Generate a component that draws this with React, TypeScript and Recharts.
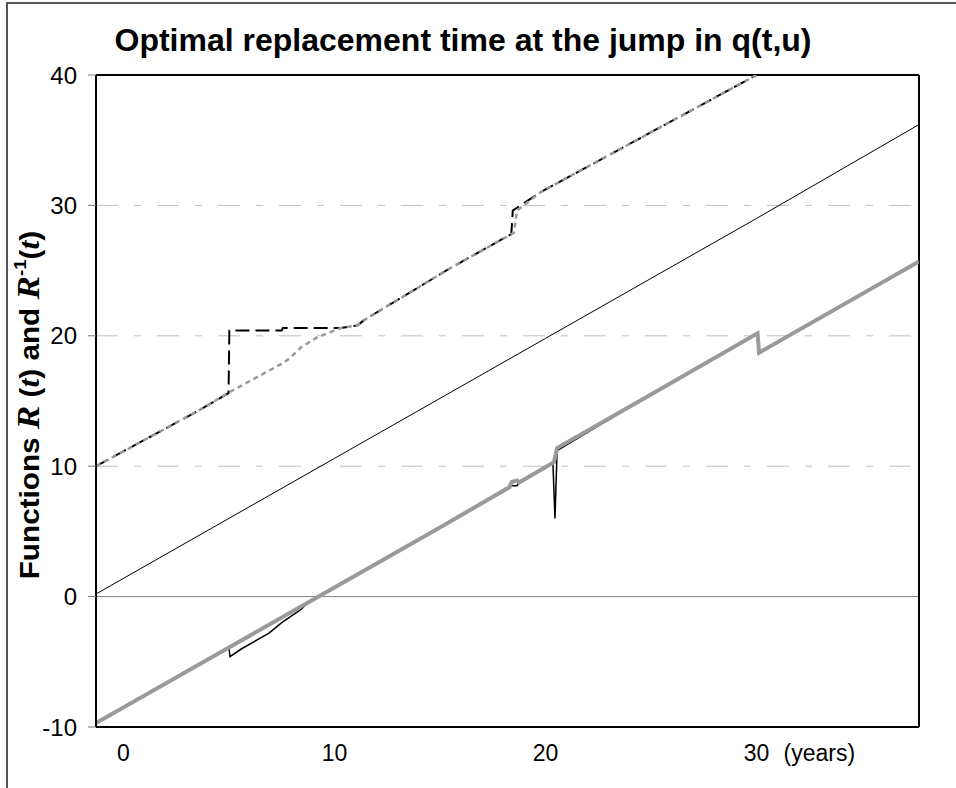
import React from "react";
import {
  LineChart,
  Line,
  XAxis,
  YAxis,
  ReferenceLine,
} from "recharts";

// time axis (years) and values
const xTicks = [0, 10, 20, 30];
const yTicks = [-10, 0, 10, 20, 30, 40];

// thin solid diagonal
const midT = [-1.3, 5, 10, 15, 20, 25, 30, 37.7];
const midV = [0.2, 6.0, 10.6, 15.2, 19.8, 24.4, 29.0, 36.2];

// thick grey lower curve
const lowGreyT = [-1.3, 5, 10, 15, 18.3, 18.4, 18.65, 18.75, 20.4, 20.55, 25, 30.05, 30.12, 37.7];
const lowGreyV = [-9.7, -3.9, 0.7, 5.3, 8.4, 8.8, 8.9, 8.75, 10.3, 11.4, 15.5, 20.2, 18.7, 25.7];

// thin black lower curve (mostly hidden under the grey one)
const lowBlackT = [-1.3, 5.0, 5.05, 5.6, 6.9, 7.5, 8.4, 8.8, 10, 15, 18.3, 18.4, 18.65, 18.75, 20.35, 20.45, 20.55, 25, 30.05, 30.12, 37.7];
const lowBlackV = [-9.7, -3.9, -4.6, -4.0, -2.8, -2.0, -1.0, -0.4, 0.7, 5.3, 8.4, 8.5, 8.5, 8.75, 10.3, 6.0, 11.2, 15.5, 20.2, 18.7, 25.7];

// grey dashed upper curve
const upGreyT = [-1.3, 3.6, 5.05, 7.55, 7.9, 8.4, 9.2, 10.3, 11.1, 11.4, 15.5, 18.5, 18.65, 19.75, 23.4, 30.0];
const upGreyV = [10.0, 14.3, 15.7, 17.9, 18.3, 19.1, 19.9, 20.6, 20.8, 21.2, 25.2, 27.9, 29.6, 31.0, 34.2, 40.0];

// black dashed upper curve
const upBlackT = [-1.3, 3.6, 4.98, 5.02, 7.5, 7.55, 10.3, 11.1, 11.4, 15.5, 18.38, 18.45, 19.75, 23.4, 30.0];
const upBlackV = [10.0, 14.3, 15.6, 20.4, 20.4, 20.6, 20.6, 20.8, 21.2, 25.2, 27.8, 29.6, 31.0, 34.2, 40.0];

const zip = (ts: number[], vs: number[]) => ts.map((t, i) => ({ t, v: vs[i] }));

const sans = "'Liberation Sans', Arial, sans-serif";
const serif = "'Liberation Serif', 'Times New Roman', serif";

function XTick(props: any) {
  const { x, y, payload } = props;
  return (
    <g>
      <text x={x} y={y + 32} textAnchor="middle" fontSize={23} fontFamily={sans} fill="#000">
        {payload.value}
      </text>
      {payload.value === 30 && (
        <text x={x + 27} y={y + 32} textAnchor="start" fontSize={23} fontFamily={sans} fill="#000">
          (years)
        </text>
      )}
    </g>
  );
}

export default function App() {
  return (
    <div
      style={{
        position: "absolute",
        left: 0,
        top: 0,
        width: 956,
        height: 788,
        overflow: "hidden",
        background: "#fff",
      }}
    >
      <div
        style={{
          position: "absolute",
          left: 6,
          top: 2,
          width: 1000,
          height: 900,
          border: "2px solid #555",
        }}
      />
      <LineChart
        width={956}
        height={788}
        margin={{ top: 75, right: 37, bottom: 0, left: 0 }}
        style={{ position: "absolute", left: 0, top: 0 }}
      >
        <XAxis
          type="number"
          dataKey="t"
          domain={[-1.3, 37.7]}
          ticks={xTicks}
          allowDataOverflow
          height={61}
          tickLine={false}
          tickSize={0}
          axisLine={{ stroke: "#000", strokeWidth: 2 }}
          tick={<XTick />}
        />
        <YAxis
          type="number"
          dataKey="v"
          domain={[-10, 40]}
          ticks={yTicks}
          allowDataOverflow
          width={96}
          tickSize={8}
          tickMargin={11}
          tickLine={{ stroke: "#777" }}
          axisLine={{ stroke: "#000", strokeWidth: 2 }}
          tick={{ fontSize: 24, fontFamily: sans, fill: "#000" }}
        />
        {[10, 20, 30].map((y) => (
          <ReferenceLine
            key={y}
            y={y}
            stroke="#c0c0c0"
            strokeWidth={1}
            strokeDasharray="22 16 7 16"
          />
        ))}
        <ReferenceLine y={0} stroke="#808080" strokeWidth={1} />
        <ReferenceLine y={40} stroke="#000" strokeWidth={2} />
        <ReferenceLine x={37.7} stroke="#000" strokeWidth={2} />

        <Line
          data={zip(midT, midV)}
          dataKey="v"
          stroke="#000"
          strokeWidth={1}
          dot={false}
          isAnimationActive={false}
        />
        <Line
          data={zip(lowBlackT, lowBlackV)}
          dataKey="v"
          stroke="#000"
          strokeWidth={1.5}
          dot={false}
          isAnimationActive={false}
        />
        <Line
          data={zip(lowGreyT, lowGreyV)}
          dataKey="v"
          stroke="#9a9a9a"
          strokeWidth={4}
          dot={false}
          isAnimationActive={false}
        />
        <Line
          data={zip(upBlackT, upBlackV)}
          dataKey="v"
          stroke="#000"
          strokeWidth={2}
          strokeDasharray="14 6"
          dot={false}
          isAnimationActive={false}
        />
        <Line
          data={zip(upGreyT, upGreyV)}
          dataKey="v"
          stroke="#999"
          strokeWidth={2.5}
          strokeDasharray="5 4"
          dot={false}
          isAnimationActive={false}
        />
      </LineChart>
      <svg
        width={956}
        height={788}
        style={{ position: "absolute", left: 0, top: 0, pointerEvents: "none" }}
      >
        <text
          x={463}
          y={51}
          textAnchor="middle"
          fontSize={32}
          fontWeight="bold"
          fontFamily={sans}
          fill="#000"
        >
          Optimal replacement time at the jump in q(t,u)
        </text>
        <text
          transform="translate(39, 405) rotate(-90) scale(1.1, 1)"
          textAnchor="middle"
          fontSize={27}
          fontWeight="bold"
          fontFamily={sans}
          fill="#000"
        >
          Functions{" "}
          <tspan fontFamily={serif} fontStyle="italic" fontSize={32}>R</tspan>
          {" ("}
          <tspan fontFamily={serif} fontStyle="italic" fontSize={29}>t</tspan>
          {") and "}
          <tspan fontFamily={serif} fontStyle="italic" fontSize={32}>R</tspan>
          <tspan fontSize={17} dy={-13}>-1</tspan>
          <tspan dy={13}>(</tspan>
          <tspan fontFamily={serif} fontStyle="italic" fontSize={29}>t</tspan>
          <tspan>)</tspan>
        </text>
      </svg>
    </div>
  );
}
